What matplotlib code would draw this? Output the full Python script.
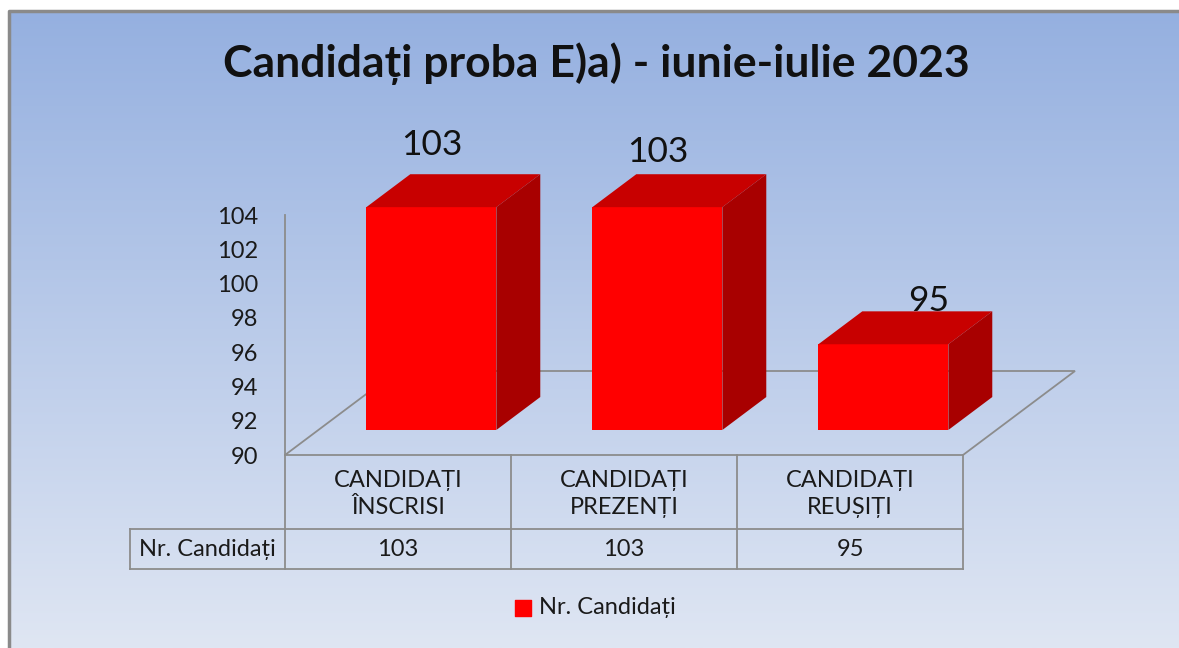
import numpy as np
import matplotlib.pyplot as plt
from matplotlib.patches import Polygon
from matplotlib.colors import LinearSegmentedColormap

# data
categories = ['CANDIDAȚI\nÎNSCRISI', 'CANDIDAȚI\nPREZENȚI', 'CANDIDAȚI\nREUȘIȚI']
values = [103, 103, 95]
series_name = 'Nr. Candidați'
title = 'Candidați proba E)a) - iunie-iulie 2023'
y_ticks = list(range(90, 105, 2))
y_min, y_max = 90, 104

W, H = 1179, 648
plt.rcParams['font.family'] = ['Lato', 'DejaVu Sans']
fig = plt.figure(figsize=(W / 100, H / 100), dpi=100)

# background in pixel coordinates (y grows downwards)
bg = fig.add_axes([0, 0, 1, 1], zorder=0)
bg.set_xlim(0, W)
bg.set_ylim(H, 0)
bg.axis('off')
grad = np.linspace(0, 1, 256)[:, None]
cmap = LinearSegmentedColormap.from_list('bg', ['#95b0e0', '#dfe6f3'])
bg.imshow(grad, cmap=cmap, extent=(9, W, H, 11), aspect='auto')
bg.plot([9, 9, W], [H, 11, 11], color='#8a8a8a', lw=2.5)

# chart axes: x in categories, y in values
cat_px, unit_px = 226, 17.14
x0_px, y0_px = 285, 455
ax = fig.add_axes([0, 0, 1, 1], zorder=1)
ax.patch.set_alpha(0)
ax.set_xlim(-x0_px / cat_px, (W - x0_px) / cat_px)
ax.set_ylim(y_min - (H - y0_px) / unit_px, y_min + y0_px / unit_px)

n = len(values)
dx, dy = 112 / cat_px, 84 / unit_px  # floor depth
grey = '#8c8c8c'
floor = Polygon([(0, y_min), (n, y_min), (n + dx, y_min + dy), (dx, y_min + dy)],
                closed=True, fill=False, ec=grey, lw=1.3, zorder=1)
ax.add_patch(floor)

hw, f0, f1 = 0.2876, 0.298, 0.69
for i, v in enumerate(values):
    xl = i + 0.5 - hw + f0 * dx
    xr = i + 0.5 + hw + f0 * dx
    yb = y_min + f0 * dy
    yt = v + f0 * dy
    ddx, ddy = (f1 - f0) * dx, (f1 - f0) * dy
    ax.add_patch(Polygon([(xl, yb), (xr, yb), (xr, yt), (xl, yt)], fc='#ff0000', ec='none', zorder=3))
    ax.add_patch(Polygon([(xl, yt), (xr, yt), (xr + ddx, yt + ddy), (xl + ddx, yt + ddy)],
                         fc='#c80000', ec='none', zorder=3))
    ax.add_patch(Polygon([(xr, yb), (xr + ddx, yb + ddy), (xr + ddx, yt + ddy), (xr, yt)],
                         fc='#a80000', ec='none', zorder=3))

# data labels
nudge = [(0, -2), (0, 5), (45, 17)]
for i, v in enumerate(values):
    lx = i + 0.5 + f0 * dx + nudge[i][0] / cat_px
    ly = v + f0 * dy + (60 - nudge[i][1]) / unit_px
    ax.text(lx, ly, str(v), ha='center', va='center', fontsize=25.5, color='#111111', zorder=4)

for s in ['top', 'right', 'bottom']:
    ax.spines[s].set_visible(False)
ax.spines['left'].set_position(('data', 0))
ax.spines['left'].set_bounds(y_min, y_max)
ax.spines['left'].set_color(grey)
ax.spines['left'].set_linewidth(1.3)
ax.set_xticks([])
ax.set_yticks(y_ticks)
ax.tick_params(axis='y', length=0, pad=19, labelsize=17, labelcolor='#1a1a1a')

# data table (pixel coordinates)
col_edges = [x0_px + i * cat_px for i in range(n + 1)]
row_top, row_mid, row_bot = 455, 529, 569
left_px = 130
kw = dict(color=grey, lw=1.3)
bg.plot([left_px, col_edges[-1]], [row_mid, row_mid], **kw)
bg.plot([left_px, col_edges[-1]], [row_bot, row_bot], **kw)
bg.plot([left_px, left_px], [row_mid, row_bot], **kw)
for xe in col_edges:
    bg.plot([xe, xe], [row_top, row_bot], **kw)
for i, (c, v) in enumerate(zip(categories, values)):
    cx = (col_edges[i] + col_edges[i + 1]) / 2
    bg.text(cx, (row_top + row_mid) / 2 + 2, c, ha='center', va='center',
            fontsize=17, linespacing=1.3, color='#1a1a1a')
    bg.text(cx, (row_mid + row_bot) / 2, str(v), ha='center', va='center',
            fontsize=17, color='#1a1a1a')
bg.text((left_px + x0_px) / 2, (row_mid + row_bot) / 2, series_name, ha='center',
        va='center', fontsize=17, color='#1a1a1a')

# legend
bg.scatter([523], [608], marker='s', s=130, color='#ff0000', zorder=3)
bg.text(539, 608, series_name, ha='left', va='center', fontsize=17, color='#1a1a1a')

# title
bg.text(596, 64, title, ha='center', va='center', fontsize=32, fontweight='bold', color='#111111')

fig.savefig('out.png', dpi=100)
